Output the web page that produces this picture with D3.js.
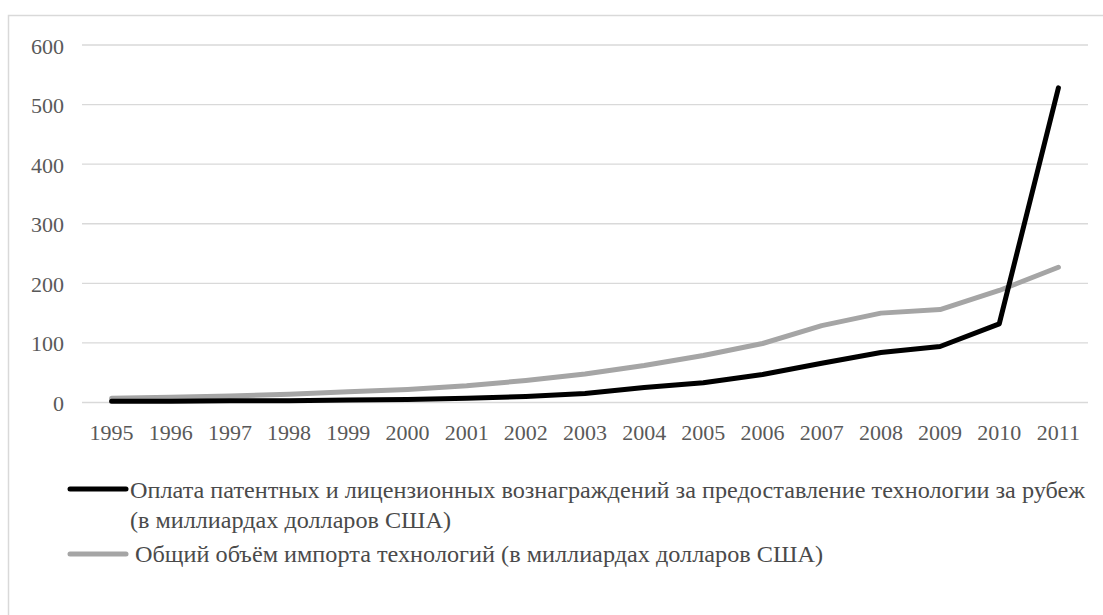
<!DOCTYPE html>
<html><head><meta charset="utf-8">
<script src="https://cdn.jsdelivr.net/npm/d3@7"></script>
<style>
html,body{margin:0;padding:0;background:#fff;}
svg{display:block;}
svg text{font-family:'Liberation Serif','Times New Roman',Tinos,serif !important;}
</style></head>
<body>
<svg id="chart" width="1103" height="615"></svg>
<script>
const years = ["1995","1996","1997","1998","1999","2000","2001","2002","2003","2004","2005","2006","2007","2008","2009","2010","2011"];
const patentPayments = [2, 2, 3, 3, 4, 5, 7, 10, 15, 25, 33, 47, 66, 84, 94, 132, 528];
const techImports = [7, 9, 11, 14, 18, 22, 28, 37, 48, 62, 79, 99, 129, 150, 156, 188, 227];
const yTicks = [0, 100, 200, 300, 400, 500, 600];
const seriesNames = [
  ["Оплата патентных и лицензионных вознаграждений за предоставление технологии за рубеж", "(в миллиардах долларов США)"],
  ["Общий объём импорта технологий (в миллиардах долларов США)"]
];
const seriesColors = ["#000000", "#a5a5a5"];
const FONT = "'Liberation Serif','Times New Roman',serif";

const svg = d3.select("#chart");
// outer border
svg.append("rect").attr("x", 8.5).attr("y", 15.5).attr("width", 1110).attr("height", 620)
  .attr("fill", "none").attr("stroke", "#d9d9d9").attr("stroke-width", 1.5);

const x = d3.scaleBand().domain(years).range([82, 1088]);
const y = d3.scaleLinear().domain([0, 600]).range([402.5, 45]);

// gridlines
svg.append("g").selectAll("line").data(yTicks).join("line")
  .attr("x1", 82).attr("x2", 1088)
  .attr("y1", d => y(d)).attr("y2", d => y(d))
  .attr("stroke", "#d9d9d9").attr("stroke-width", 1.3);

// y axis labels
const yAxis = d3.axisLeft(y).tickValues(yTicks).tickSize(0).tickPadding(0);
const gy = svg.append("g").attr("transform", "translate(64,1)").call(yAxis)
  .attr("font-family", null);
gy.select(".domain").remove();
gy.selectAll("text").attr("font-size", 22).attr("fill", "#595959")
  .style("font-family", FONT);

// x axis labels
const xAxis = d3.axisBottom(x).tickSize(0).tickPadding(0);
const gx = svg.append("g").attr("transform", "translate(0,424)").call(xAxis)
  .attr("font-family", null);
gx.select(".domain").remove();
gx.selectAll("text").attr("font-size", 22).attr("fill", "#595959")
  .style("font-family", FONT);

const line = d3.line().x((d, i) => x(years[i]) + x.bandwidth() / 2).y(d => y(d));

svg.append("path").datum(techImports).attr("d", line)
  .attr("fill", "none").attr("stroke", seriesColors[1]).attr("stroke-width", 5)
  .attr("stroke-linejoin", "round").attr("stroke-linecap", "round");
svg.append("path").datum(patentPayments).attr("d", line)
  .attr("fill", "none").attr("stroke", seriesColors[0]).attr("stroke-width", 5)
  .attr("stroke-linejoin", "round").attr("stroke-linecap", "round");

// legend
const lg = svg.append("g");
lg.append("line").attr("x1", 70).attr("x2", 126).attr("y1", 489).attr("y2", 489)
  .attr("stroke", seriesColors[0]).attr("stroke-width", 5).attr("stroke-linecap", "round");
lg.append("text").attr("x", 130).attr("y", 498).attr("font-size", 23).attr("fill", "#4a4a4a")
  .style("font-family", FONT)
  .attr("textLength", 955).attr("lengthAdjust", "spacingAndGlyphs").text(seriesNames[0][0]);
lg.append("text").attr("x", 130).attr("y", 528).attr("font-size", 23).attr("fill", "#4a4a4a")
  .style("font-family", FONT)
  .attr("textLength", 321).attr("lengthAdjust", "spacingAndGlyphs").text(seriesNames[0][1]);
lg.append("line").attr("x1", 70).attr("x2", 126).attr("y1", 554).attr("y2", 554)
  .attr("stroke", seriesColors[1]).attr("stroke-width", 5).attr("stroke-linecap", "round");
lg.append("text").attr("x", 135).attr("y", 562).attr("font-size", 23).attr("fill", "#4a4a4a")
  .style("font-family", FONT)
  .attr("textLength", 688).attr("lengthAdjust", "spacingAndGlyphs").text(seriesNames[1][0]);
</script>
</body></html>
